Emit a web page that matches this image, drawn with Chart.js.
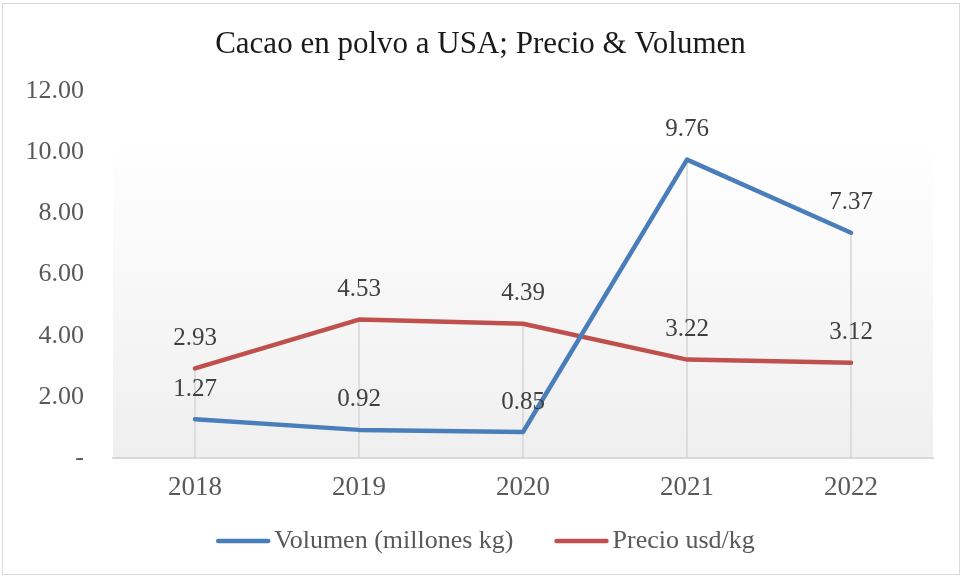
<!DOCTYPE html>
<html>
<head>
<meta charset="utf-8">
<script src="https://cdn.jsdelivr.net/npm/chart.js@4.4.1/dist/chart.umd.min.js"></script>
<style>
  body { margin: 0; background: #fff; }
  #wrap { width: 961px; height: 577px; }
</style>
</head>
<body>
<div id="wrap"><canvas id="chart" width="961" height="577"></canvas></div>
<script>
// datos
const years = ['2018', '2019', '2020', '2021', '2022'];
const volumen = [1.27, 0.92, 0.85, 9.76, 7.37];
const precio = [2.93, 4.53, 4.39, 3.22, 3.12];
const yTicks = [0, 2, 4, 6, 8, 10, 12];

const serif = "'Liberation Serif', 'DejaVu Serif', serif";

// fondo, borde exterior, lineas de caida
const backdrop = {
    id: 'backdrop',
    beforeDraw(chart) {
        const { ctx, chartArea: a } = chart;
        ctx.save();
        ctx.fillStyle = '#fff';
        ctx.fillRect(0, 0, chart.width, chart.height);
        ctx.strokeStyle = '#d9d9d9';
        ctx.lineWidth = 1;
        ctx.strokeRect(2.5, 3.5, chart.width - 4, chart.height - 6);
        const top = a.top + (a.bottom - a.top) * 0.128;
        const g = ctx.createLinearGradient(0, top, 0, a.bottom);
        g.addColorStop(0, '#ffffff');
        g.addColorStop(1, '#efefef');
        ctx.fillStyle = g;
        ctx.fillRect(a.left, top, a.right - a.left, a.bottom - top);
        ctx.restore();
    },
    beforeDatasetsDraw(chart) {
        const { ctx } = chart;
        const x = chart.scales.x, y = chart.scales.y;
        ctx.save();
        ctx.strokeStyle = '#d6d6d6';
        ctx.lineWidth = 1.5;
        years.forEach((yr, i) => {
            const top = Math.max(volumen[i], precio[i]);
            const px = x.getPixelForValue(i);
            ctx.beginPath();
            ctx.moveTo(px, y.getPixelForValue(top));
            ctx.lineTo(px, y.getPixelForValue(0));
            ctx.stroke();
        });
        ctx.restore();
    }
};

// etiquetas de datos
const valueLabels = {
    id: 'valueLabels',
    afterDatasetsDraw(chart) {
        const { ctx } = chart;
        ctx.save();
        ctx.font = '25px ' + serif;
        ctx.fillStyle = '#404040';
        ctx.textAlign = 'center';
        ctx.textBaseline = 'middle';
        chart.data.datasets.forEach((ds, di) => {
            chart.getDatasetMeta(di).data.forEach((pt, i) => {
                ctx.fillText(ds.data[i].toFixed(2), pt.x, pt.y - 30);
            });
        });
        ctx.restore();
    }
};

// leyenda dibujada a mano
const bottomLegend = {
    id: 'bottomLegend',
    afterDraw(chart) {
        const { ctx } = chart;
        const lineW = 54, gap = 4, between = 41;
        ctx.save();
        ctx.font = '26px ' + serif;
        const items = chart.data.datasets.map(ds => ({
            text: ds.label, color: ds.borderColor, w: ctx.measureText(ds.label).width
        }));
        let total = 0;
        items.forEach((it, i) => { total += lineW + gap + it.w + (i ? between : 0); });
        let x = chart.width / 2 - total / 2 + 5;
        const y = 541;
        items.forEach(it => {
            ctx.strokeStyle = it.color;
            ctx.lineWidth = 4.5;
            ctx.lineCap = 'round';
            ctx.beginPath();
            ctx.moveTo(x + 2, y);
            ctx.lineTo(x + lineW - 2, y);
            ctx.stroke();
            ctx.fillStyle = '#595959';
            ctx.textBaseline = 'middle';
            ctx.fillText(it.text, x + lineW + gap, y);
            x += lineW + gap + it.w + between;
        });
        ctx.restore();
    }
};

new Chart(document.getElementById('chart'), {
    type: 'line',
    data: {
        labels: years,
        datasets: [{
            label: 'Volumen (millones kg)',
            data: volumen,
            borderColor: '#4a7ebb',
            borderWidth: 4.5,
            pointRadius: 0,
            borderCapStyle: 'round',
            borderJoinStyle: 'round',
            tension: 0
        }, {
            label: 'Precio usd/kg',
            data: precio,
            borderColor: '#c0504d',
            borderWidth: 4.5,
            pointRadius: 0,
            borderCapStyle: 'round',
            borderJoinStyle: 'round',
            tension: 0
        }]
    },
    options: {
        responsive: false,
        animation: false,
        layout: { padding: { left: 0, right: 0, top: 0, bottom: 70 } },
        scales: {
            x: {
                offset: true,
                grid: { display: false, drawTicks: false },
                border: { color: '#d9d9d9', width: 2 },
                ticks: { color: '#595959', font: { family: serif, size: 27 }, padding: 14 },
                afterFit: s => { s.height = 49; }
            },
            y: {
                min: 0,
                max: 12,
                afterBuildTicks: s => { s.ticks = yTicks.map(v => ({ value: v })); },
                grid: { display: false, drawTicks: false },
                border: { display: false },
                ticks: {
                    color: '#595959',
                    font: { family: serif, size: 26 },
                    padding: 29,
                    callback: v => v === 0 ? '-' : v.toFixed(2)
                },
                afterFit: s => { s.width = 113; }
            },
            // eje vacio para dejar el margen derecho
            yPad: {
                position: 'right',
                grid: { display: false, drawTicks: false },
                border: { display: false },
                ticks: { display: false },
                afterFit: s => { s.width = 28; }
            }
        },
        plugins: {
            legend: { display: false },
            tooltip: { enabled: false },
            title: {
                display: true,
                text: 'Cacao en polvo a USA; Precio & Volumen',
                color: '#1a1a1a',
                font: { family: serif, size: 31, weight: 'normal' },
                padding: { top: 26, bottom: 28 }
            }
        }
    },
    plugins: [backdrop, valueLabels, bottomLegend]
});
</script>
</body>
</html>
